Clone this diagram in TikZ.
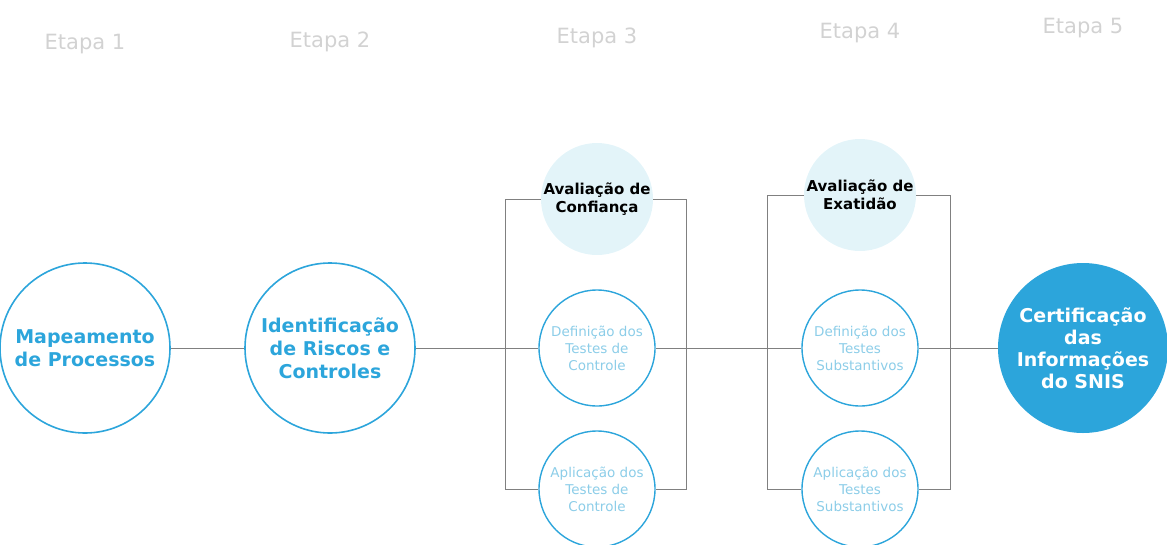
\documentclass[tikz,border=0pt]{standalone}
\usepackage{fontspec}
\setmainfont{DejaVu Sans}
\usetikzlibrary{positioning}

\definecolor{stepblue}{HTML}{2CA5DB}
\definecolor{softblue}{HTML}{8CCDE8}
\definecolor{evalfill}{HTML}{E3F4F9}
\definecolor{linkgray}{HTML}{808080}
\definecolor{stagegray}{HTML}{D2D2D2}

\begin{document}
\begin{tikzpicture}[x=1pt, y=-1pt, node distance=245pt,
    step node/.style={circle,draw=stepblue,line width=1.6pt,minimum size=170pt,inner sep=0pt,
      align=center,text=stepblue,font=\fontsize{19}{23}\selectfont\bfseries},
    small node/.style={circle,draw=stepblue,line width=1.4pt,minimum size=116pt,inner sep=0pt,
      align=center,text=softblue,font=\fontsize{13.5}{17}\selectfont},
    eval node/.style={circle,fill=evalfill,minimum size=112pt,inner sep=0pt,
      align=center,font=\fontsize{15}{18}\selectfont\bfseries},
    final node/.style={circle,fill=stepblue,minimum size=170pt,inner sep=0pt,
      align=center,text=white,font=\fontsize{19}{22}\selectfont\bfseries},
    stage label/.style={text=stagegray,font=\fontsize{21}{24}\selectfont},
    link/.style={draw=linkgray,line width=0.9pt},
    bracket/.style={draw=linkgray,line width=0.8pt}]

\useasboundingbox (0,0) rectangle (1167,544);

% etapas 1 e 2
\node[step node] (map) at (85,348) {Mapeamento\\de Processos};
\node[step node] (ident) [right of=map] {Identificação\\de Riscos e\\Controles};

% etapa 3
\node[small node] (defC) [right of=ident, node distance=267pt] {Definição dos\\Testes de\\Controle};
\node[small node] (aplC) [below of=defC, node distance=141pt] {Aplicação dos\\Testes de\\Controle};
\node[eval node] (conf) [above of=defC, node distance=149pt] {Avaliação de\\Confiança};

% etapa 4
\node[small node] (defS) [right of=defC, node distance=263pt] {Definição dos\\Testes\\Substantivos};
\node[small node] (aplS) [below of=defS, node distance=141pt] {Aplicação dos\\Testes\\Substantivos};
\node[eval node] (exat) [above of=defS, node distance=153pt] {Avaliação de\\Exatidão};

% etapa 5
\node[final node] (cert) [right of=defS, node distance=223pt] {Certificação\\das\\Informações\\do SNIS};

% titulos
\node[stage label] (e1) [above of=map, node distance=304pt] {Etapa 1};
\node[stage label] (e2) [above of=ident, node distance=306pt] {Etapa 2};
\node[stage label] (e3) [above of=defC, node distance=310pt] {Etapa 3};
\node[stage label] (e4) [above of=defS, node distance=315pt] {Etapa 4};
\node[stage label] (e5) [above of=cert, node distance=320pt] {Etapa 5};

\coordinate (b1l) at (505,0);
\coordinate (b1r) at (686,0);
\coordinate (b2l) at (767,0);
\coordinate (b2r) at (950,0);

\path[bracket]
    (conf.west) -| (b1l |- aplC.west) -- (aplC.west)
    (conf.east) -| (b1r |- aplC.east) -- (aplC.east)
    (exat.west) -| (b2l |- aplS.west) -- (aplS.west)
    (exat.east) -| (b2r |- aplS.east) -- (aplS.east);

\path[link]
    (map) edge (ident)
    (ident) edge (defC)
    (defC) edge (defS)
    (defS) edge (cert);

\end{tikzpicture}
\end{document}
